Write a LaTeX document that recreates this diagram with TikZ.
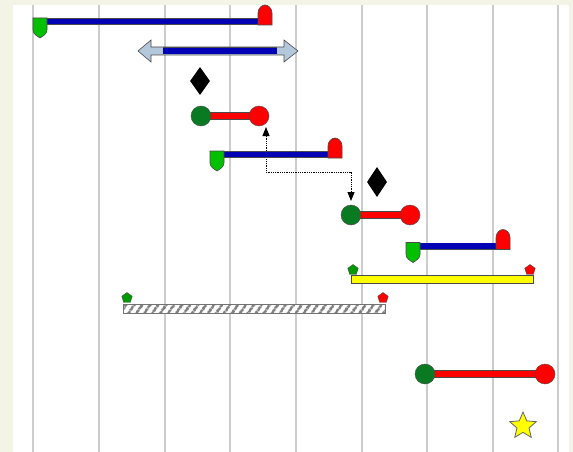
\documentclass[tikz,border=0pt]{standalone}
\usepackage{tikz}
\usetikzlibrary{positioning}
\usetikzlibrary{arrows.meta}
\usetikzlibrary{shapes.geometric}
\usetikzlibrary{patterns.meta}
\usepackage{xcolor}

\definecolor{panelbg}{HTML}{F3F3E6}
\definecolor{gridgray}{HTML}{CCCCCC}
\definecolor{barblue}{HTML}{0000B4}
\definecolor{barred}{HTML}{FF0000}
\definecolor{dotgreen}{HTML}{0A7A22}
\definecolor{flaggreen}{HTML}{00C000}
\definecolor{arrowblue}{HTML}{B4C8DC}
\definecolor{baryellow}{HTML}{FFFF00}
\definecolor{edgegray}{HTML}{4A4A4A}

\tikzset{
  startflag/.pic={\path[draw=edgegray, line width=0.6pt, fill=flaggreen] (-7,0) -- (7,0) -- (7,12) .. controls (7,16) and (3,18) .. (0,20) .. controls (-3,18) and (-7,16) .. (-7,12) -- cycle;},
  endflag/.pic={\path[draw=edgegray, line width=0.6pt, fill=barred] (-7,0) -- (7,0) -- (7,-12) .. controls (7,-17) and (3,-20) .. (0,-20) .. controls (-3,-20) and (-7,-17) .. (-7,-12) -- cycle;},
}

\begin{document}
\begin{tikzpicture}[x=1pt, y=-1pt,
    bluebar/.style={draw=edgegray, line width=0.7pt, double=barblue, double distance=5.6pt},
    redbar/.style={draw=edgegray, line width=0.7pt, double=barred, double distance=6.6pt},
    startdot/.style={circle, draw=edgegray, fill=dotgreen, minimum size=20pt, inner sep=0pt},
    enddot/.style={circle, draw=edgegray, fill=barred, minimum size=20pt, inner sep=0pt},
    milestone/.style={diamond, fill=black, minimum width=20pt, minimum height=28pt, inner sep=0pt},
    smallstart/.style={regular polygon, regular polygon sides=5, draw=edgegray, fill=flaggreen!80!black, minimum size=11pt, inner sep=0pt},
    smallend/.style={regular polygon, regular polygon sides=5, draw=edgegray, fill=barred, minimum size=11pt, inner sep=0pt}]

    % Background and time grid
    \useasboundingbox (0,0) rectangle (573,452);
    \fill[panelbg] (0,0) rectangle (573,452);
    \fill[white] (13,5) rectangle (569,452);
    \foreach \gx in {33,99,165,230,296,362,427,493,558}
        \draw[gridgray, line width=2pt] (\gx,5) -- (\gx,452);

    % Task 1
    \coordinate (t1a) at (40,21.5);
    \coordinate (t1b) at (265,21.5);
    \draw[bluebar] (t1a) -- (t1b);
    \pic at (40,18) {startflag};
    \pic at (265,25) {endflag};

    % Task 2 with open ends
    \coordinate (t2a) at (163,51);
    \coordinate (t2b) at (277,51);
    \path[draw=edgegray, line width=0.6pt, fill=arrowblue] (138,51) -- (151,40) -- (151,47) -- (284,47) -- (284,40) -- (298,51) -- (284,62) -- (284,55) -- (151,55) -- (151,62) -- cycle;
    \draw[bluebar] (t2a) -- (t2b);

    % Milestone 1
    \node (ms1) [milestone] at (200,81) {};

    % Task 3
    \coordinate (t3c) at (201,116);
    \coordinate (t3d) at (259,116);
    \draw[redbar] (t3c) -- (t3d);
    \node (t3a) [startdot] at (t3c) {};
    \node (t3b) [enddot] at (t3d) {};

    % Link from task 3 to task 5
    \coordinate (linkfrom) at (266,127);
    \coordinate (t5c) at (351,215);
    \draw[densely dotted, line width=0.8pt, {Triangle[length=9pt,width=7pt]}-{Triangle[length=9pt,width=7pt]}, shorten >=14pt] (linkfrom) -- ++(0,45) -| (t5c);

    % Task 4
    \coordinate (t4a) at (217,154.5);
    \coordinate (t4b) at (335,154.5);
    \draw[bluebar] (t4a) -- (t4b);
    \pic at (217,151) {startflag};
    \pic at (335,158) {endflag};

    % Milestone 2
    \node (ms2) [milestone, minimum height=30pt] at (377,182) {};

    % Task 5
    \draw[redbar] (t5c) -- (410,215);
    \node (t5a) [startdot] at (t5c) {};
    \node (t5b) [enddot] at (410,215) {};

    % Task 6
    \coordinate (t6a) at (413,246);
    \coordinate (t6b) at (503,246);
    \draw[bluebar] (t6a) -- (t6b);
    \pic at (413,242.5) {startflag};
    \pic at (503,249.5) {endflag};

    % Task 7 (summary)
    \draw[edgegray, line width=0.7pt, fill=baryellow] (351,275) rectangle (533,283);
    \node (m7a) [smallstart] at (353,270) {};
    \node (m7b) [smallend] at (530,270) {};

    % Task 8 (hatched)
    \path[draw=gray!90!black, line width=0.8pt, preaction={fill=white}, pattern={Lines[angle=55, distance=6.5pt, line width=3pt]}, pattern color=gray] (123,304) rectangle (385,313);
    \node (m8a) [smallstart] at (127,298) {};
    \node (m8b) [smallend] at (383,298) {};

    % Task 9
    \coordinate (t9c) at (425,374);
    \coordinate (t9d) at (545,374);
    \draw[redbar] (t9c) -- (t9d);
    \node (t9a) [startdot] at (t9c) {};
    \node (t9b) [enddot] at (t9d) {};

    % Star marker
    \node (goal) [star, star points=5, star point ratio=2.2, draw=gray!80!black, line width=0.8pt, fill=baryellow, minimum size=28pt, inner sep=0pt] at (523,426) {};
\end{tikzpicture}
\end{document}
